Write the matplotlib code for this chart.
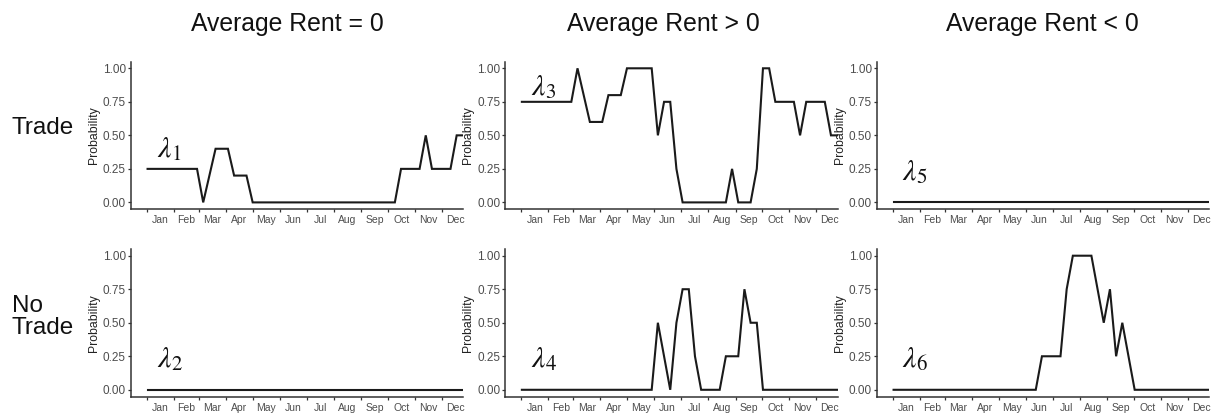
import numpy as np
import matplotlib
matplotlib.use("Agg")
import matplotlib.pyplot as plt

plt.rcParams["font.family"] = ["Liberation Sans", "DejaVu Sans"]
plt.rcParams["mathtext.fontset"] = "stix"

# Weekly probabilities over one year (52 weeks)
week = np.arange(52)
week_day = week * 7 + 1  # day of year at which each weekly value is recorded

lam1 = [0.25, 0.25, 0.25, 0.25, 0.25, 0.25, 0.25, 0.25, 0.25, 0.0,
        0.2, 0.4, 0.4, 0.4, 0.2, 0.2, 0.2, 0.0, 0.0, 0.0,
        0.0, 0.0, 0.0, 0.0, 0.0, 0.0, 0.0, 0.0, 0.0, 0.0,
        0.0, 0.0, 0.0, 0.0, 0.0, 0.0, 0.0, 0.0, 0.0, 0.0,
        0.0, 0.25, 0.25, 0.25, 0.25, 0.5, 0.25, 0.25, 0.25, 0.25,
        0.5, 0.5]
lam2 = [0.0] * 52
lam3 = [0.75, 0.75, 0.75, 0.75, 0.75, 0.75, 0.75, 0.75, 0.75, 1.0,
        0.8, 0.6, 0.6, 0.6, 0.8, 0.8, 0.8, 1.0, 1.0, 1.0,
        1.0, 1.0, 0.5, 0.75, 0.75, 0.25, 0.0, 0.0, 0.0, 0.0,
        0.0, 0.0, 0.0, 0.0, 0.25, 0.0, 0.0, 0.0, 0.25, 1.0,
        1.0, 0.75, 0.75, 0.75, 0.75, 0.5, 0.75, 0.75, 0.75, 0.75,
        0.5, 0.5]
lam4 = [0.0, 0.0, 0.0, 0.0, 0.0, 0.0, 0.0, 0.0, 0.0, 0.0,
        0.0, 0.0, 0.0, 0.0, 0.0, 0.0, 0.0, 0.0, 0.0, 0.0,
        0.0, 0.0, 0.5, 0.25, 0.0, 0.5, 0.75, 0.75, 0.25, 0.0,
        0.0, 0.0, 0.0, 0.25, 0.25, 0.25, 0.75, 0.5, 0.5, 0.0,
        0.0, 0.0, 0.0, 0.0, 0.0, 0.0, 0.0, 0.0, 0.0, 0.0,
        0.0, 0.0]
lam5 = [0.0] * 52
lam6 = [0.0, 0.0, 0.0, 0.0, 0.0, 0.0, 0.0, 0.0, 0.0, 0.0,
        0.0, 0.0, 0.0, 0.0, 0.0, 0.0, 0.0, 0.0, 0.0, 0.0,
        0.0, 0.0, 0.0, 0.0, 0.25, 0.25, 0.25, 0.25, 0.75, 1.0,
        1.0, 1.0, 1.0, 0.75, 0.5, 0.75, 0.25, 0.5, 0.25, 0.0,
        0.0, 0.0, 0.0, 0.0, 0.0, 0.0, 0.0, 0.0, 0.0, 0.0,
        0.0, 0.0]

months = ["Jan", "Feb", "Mar", "Apr", "May", "Jun",
          "Jul", "Aug", "Sep", "Oct", "Nov", "Dec"]
month_len = [31, 28, 31, 30, 31, 30, 31, 31, 30, 31, 30, 31]
month_start = np.concatenate([[0], np.cumsum(month_len)[:-1]])
month_mid = month_start + np.array(month_len) / 2

col_titles = ["Average Rent = 0", "Average Rent > 0", "Average Rent < 0"]
row_titles = ["Trade", "No\nTrade"]
y_ticks = [0.0, 0.25, 0.5, 0.75, 1.0]

series = [[lam1, lam3, lam5], [lam2, lam4, lam6]]
labels = [[r"$\lambda_1$", r"$\lambda_3$", r"$\lambda_5$"],
          [r"$\lambda_2$", r"$\lambda_4$", r"$\lambda_6$"]]
label_pos = [[(12, 0.505), (11, 0.965), (11, 0.33)],
             [(12, 0.335), (11, 0.335), (11, 0.335)]]

W, H = 1213, 419
fig = plt.figure(figsize=(W / 100, H / 100), dpi=100)

lefts = [130.7, 505.0, 876.7]
tops = [61.6, 249.0]
pw, ph = 332.6, 147.5

axis_col = "#333333"
tick_col = "#4d4d4d"

for r in range(2):
    for c in range(3):
        ax = fig.add_axes([lefts[c] / W, 1 - (tops[r] + ph) / H, pw / W, ph / H])
        ax.plot(week_day, series[r][c], color="#1a1a1a", lw=1.5,
                solid_joinstyle="miter", clip_on=True)
        ax.set_xlim(-18.1, 358.5)
        ax.set_ylim(-0.05, 1.05)
        for s in ["top", "right"]:
            ax.spines[s].set_visible(False)
        for s in ["left", "bottom"]:
            ax.spines[s].set_color(axis_col)
            ax.spines[s].set_linewidth(1.1)
        ax.set_yticks(y_ticks)
        ax.set_yticklabels([f"{v:.2f}" for v in y_ticks])
        ax.set_xticks(month_start)
        ax.set_xticklabels([])
        ax.set_xticks(month_mid, minor=True)
        ax.set_xticklabels(months, minor=True)
        ax.tick_params(axis="x", which="major", length=2.5, width=0.9,
                       color=axis_col)
        ax.tick_params(axis="x", which="minor", length=0, pad=4.5,
                       labelsize=7.5, labelcolor=tick_col)
        ax.tick_params(axis="y", length=2.5, width=0.9, color=axis_col,
                       pad=1, labelsize=8.5, labelcolor=tick_col)
        ax.set_ylabel("Probability", fontsize=8.8, color="#222222", labelpad=2)
        lx, ly = label_pos[r][c]
        ax.text(lx, ly, labels[r][c], fontsize=21.5, va="top", ha="left",
                color="#111111")

title_x = [287, 663, 1042]
for c in range(3):
    fig.text(title_x[c] / W, 1 - 23.5 / H, col_titles[c], fontsize=17.8,
             ha="center", va="center", color="#111111")

fig.text(11.5 / W, 1 - 128 / H, row_titles[0], fontsize=17.5,
         ha="left", va="center", color="#111111")
fig.text(11.5 / W, 1 - 317 / H, row_titles[1], fontsize=17.5,
         ha="left", va="center", color="#111111", linespacing=1.05)

fig.savefig("out.png", dpi=100)
